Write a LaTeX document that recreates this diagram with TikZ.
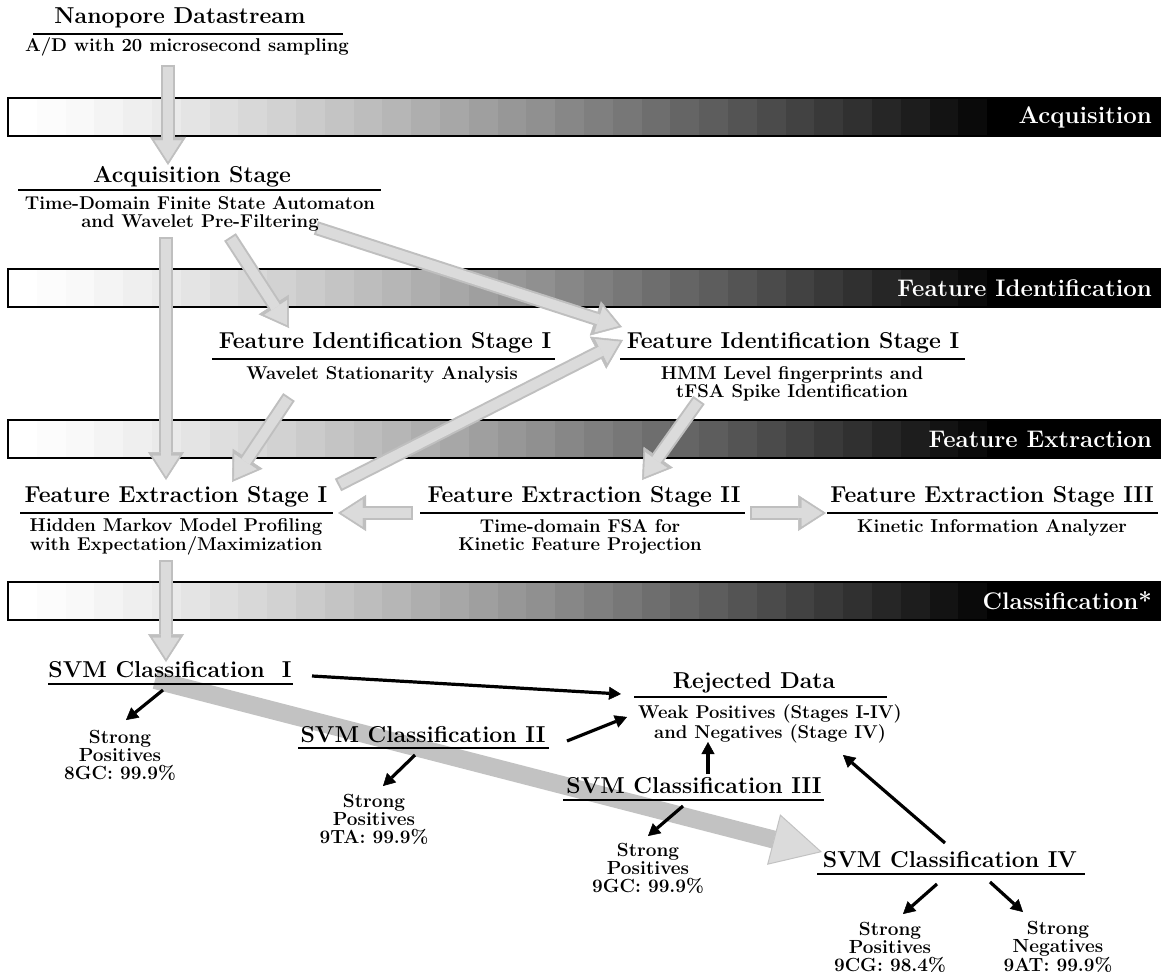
\documentclass[tikz,border=0pt]{standalone}
\usepackage{fontspec}
\usetikzlibrary{arrows.meta}

\begin{document}
\begin{tikzpicture}[x=1pt,y=-1pt,
    ttl/.style={font=\fontsize{23}{25}\selectfont\bfseries, inner sep=0pt},
    sub/.style={font=\fontsize{18.5}{17.5}\selectfont\bfseries, align=center, inner sep=0pt},
    svm/.style={font=\fontsize{23}{25}\selectfont\bfseries, inner sep=0pt},
    res/.style={font=\fontsize{19}{18}\selectfont\bfseries, align=center, inner sep=0pt},
    lbl/.style={font=\fontsize{24}{26}\selectfont\bfseries, text=white, anchor=east, inner sep=0pt},
    rule/.style={line width=1.6pt},
    gout/.style={line width=14pt, draw=gray!50, -{Triangle[width=36pt,length=28pt,line width=0.5pt]}},
    gin/.style={line width=10pt, draw=gray!28, shorten <=2pt, shorten >=3.5pt, -{Triangle[width=27pt,length=21pt,line width=0.5pt]}},
    blk/.style={line width=3.2pt, -{Triangle[width=13pt,length=12pt,line width=0.5pt]}}]
\path[use as bounding box, fill=white] (0,0) rectangle (1167,979);

% stage bands
\foreach \y/\t [count=\k] in {98/Acquisition, 269/Feature Identification, 420/Feature Extraction, 582/Classification*}{
  \foreach \i in {0,...,39}{
    \pgfmathsetmacro\pc{min(100,100*(\i/34)^1.3)}
    \fill[black!\pc] (8+28.8*\i,\y) rectangle ++(29.2,38);
  }
  \draw[line width=2pt] (8,\y) rectangle ++(1152,38);
  \node[lbl] (band\k) at (1152,\y+19) {\t};
}

% arrow ends
\coordinate (nanoOut) at (168,65);   \coordinate (acqIn) at (168,165);
\coordinate (acqOutA) at (166,237);  \coordinate (feAInA) at (166,480);
\coordinate (acqOutB) at (230,237);  \coordinate (fiAIn) at (289,328);
\coordinate (acqOutC) at (316,228);  \coordinate (fiBInA) at (622,327);
\coordinate (fiAOut) at (289,397);   \coordinate (feAInB) at (232,482);
\coordinate (feAOutA) at (338,485);  \coordinate (fiBInB) at (623,340);
\coordinate (fiBOut) at (699,400);   \coordinate (feBIn) at (642,480);
\coordinate (feBOutA) at (413,513);  \coordinate (feAInC) at (338,513);
\coordinate (feBOutB) at (750,513);  \coordinate (feCIn) at (826,513);
\coordinate (feAOutB) at (166,560);  \coordinate (svmAIn) at (166,662);
\coordinate (svmAOut) at (155,680);  \coordinate (svmDIn) at (822,852);

\foreach \s/\e in {nanoOut/acqIn, acqOutA/feAInA, acqOutB/fiAIn, acqOutC/fiBInA,
    fiAOut/feAInB, feAOutA/fiBInB, fiBOut/feBIn, feBOutA/feAInC, feBOutB/feCIn, feAOutB/svmAIn}{
  \draw[gout] (\s) -- (\e);
  \draw[gin] (\s) -- (\e);
}
\draw[line width=18pt, draw=gray!48, -{Triangle[width=52pt,length=50pt,line width=1pt,fill=gray!28]}] (svmAOut) -- (svmDIn);

% stages
\node[ttl] (nano) at (180,18) {Nanopore Datastream};
\draw[rule] (33,34) -- (343,34);
\node[sub] (nanoSub) at (187,47) {A/D with 20 microsecond sampling};

\node[ttl] (acq) at (192,177) {Acquisition Stage};
\draw[rule] (18,190) -- (381,190);
\node[sub] (acqSub) at (200,214) {Time-Domain Finite State Automaton\\and Wavelet Pre-Filtering};

\node[ttl] (fiA) at (385,343) {Feature Identification Stage I};
\draw[rule] (212,359) -- (555,359);
\node[sub] (fiASub) at (382,375) {Wavelet Stationarity Analysis};

\node[ttl] (fiB) at (793,343) {Feature Identification Stage I};
\draw[rule] (620,359) -- (965,359);
\node[sub] (fiBSub) at (792,384) {HMM Level fingerprints and\\tFSA Spike Identification};

\node[ttl] (feA) at (176,497) {Feature Extraction Stage I};
\draw[rule] (20,513) -- (333,513);
\node[sub] (feASub) at (176,537) {Hidden Markov Model Profiling\\with Expectation/Maximization};

\node[ttl] (feB) at (584,497) {Feature Extraction Stage II};
\draw[rule] (420,513) -- (745,513);
\node[sub] (feBSub) at (580,537) {Time-domain FSA for\\Kinetic Feature Projection};

\node[ttl] (feC) at (992,497) {Feature Extraction Stage III};
\draw[rule] (827,513) -- (1158,513);
\node[sub] (feCSub) at (992,528) {Kinetic Information Analyzer};

% classification
\node[svm] (svmA) at (170,670) {SVM Classification\ \ I};
\draw[rule] (48,684) -- (293,684);
\node[svm] (svmB) at (423,735) {SVM Classification II};
\draw[rule] (298,748) -- (549,748);
\node[svm] (svmC) at (694,786) {SVM Classification III};
\draw[rule] (563,800) -- (824,800);
\node[svm] (svmD) at (950,860) {SVM Classification IV};
\draw[rule] (817,874) -- (1085,874);

\node[ttl] (rej) at (754,683) {Rejected Data};
\draw[rule] (634,697) -- (887,697);
\node[sub] (rejSub) at (770,724) {Weak Positives (Stages I-IV)\\and Negatives (Stage IV)};

\node[res] (spA) at (120,755) {Strong\\Positives\\8GC: 99.9\%};
\node[res] (spB) at (374,819) {Strong\\Positives\\9TA: 99.9\%};
\node[res] (spC) at (648,868) {Strong\\Positives\\9GC: 99.9\%};
\node[res] (spD) at (890,947) {Strong\\Positives\\9CG: 98.4\%};
\node[res] (snD) at (1058,947) {Strong\\Negatives\\9AT: 99.9\%};

\coordinate (svmAR) at (312,676); \coordinate (rejL1) at (621,694);
\coordinate (svmBR) at (567,741); \coordinate (rejL2) at (627,717);
\coordinate (svmCT) at (708,774); \coordinate (rejB) at (708,742);
\coordinate (svmDT) at (945,843); \coordinate (rejR) at (843,755);
\coordinate (svmAB) at (163,690); \coordinate (spAT) at (126,720);
\coordinate (svmBB) at (415,755); \coordinate (spBT) at (383,786);
\coordinate (svmCB) at (683,806); \coordinate (spCT) at (648,836);
\coordinate (svmDL) at (937,884); \coordinate (spDT) at (903,914);
\coordinate (svmDR) at (990,882); \coordinate (snDT) at (1023,912);

\foreach \s/\e in {svmAR/rejL1, svmBR/rejL2, svmCT/rejB, svmDT/rejR, svmAB/spAT,
    svmBB/spBT, svmCB/spCT, svmDL/spDT, svmDR/snDT}
  \draw[blk] (\s) -- (\e);
\end{tikzpicture}
\end{document}
